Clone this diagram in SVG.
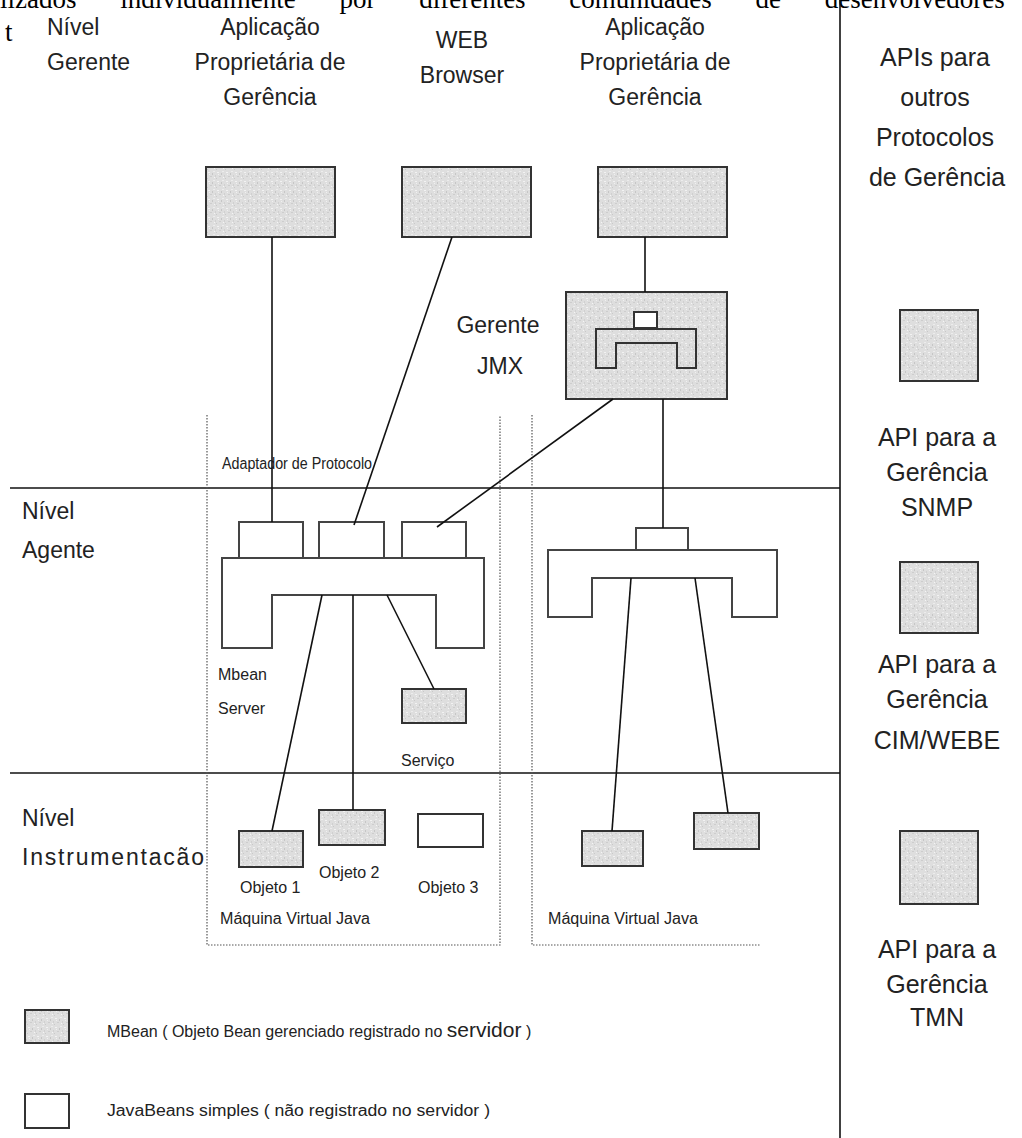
<svg xmlns="http://www.w3.org/2000/svg" width="1022" height="1138" viewBox="0 0 1022 1138">
<defs>
<pattern id="speck" width="9" height="9" patternUnits="userSpaceOnUse">
<rect width="9" height="9" fill="#dedede"/>
<rect x="1" y="1" width="2" height="1" fill="#f2f2f2"/>
<rect x="5" y="2" width="1" height="2" fill="#c6c6c6"/>
<rect x="3" y="5" width="2" height="1" fill="#cdcdcd"/>
<rect x="7" y="6" width="1" height="1" fill="#f5f5f5"/>
<rect x="0" y="7" width="1" height="1" fill="#c9c9c9"/>
<rect x="6" y="0" width="2" height="1" fill="#ececec"/>
<rect x="2" y="3" width="1" height="1" fill="#f0f0f0"/>
<rect x="8" y="4" width="1" height="2" fill="#d0d0d0"/>
</pattern>
<style>
.lbl{font-family:"Liberation Sans",Arial,sans-serif;font-size:23px;fill:#222}
.rl{font-family:"Liberation Sans",Arial,sans-serif;font-size:25px;fill:#222;text-anchor:middle}
.sm{font-family:"Liberation Sans",Arial,sans-serif;font-size:16px;fill:#222}
.c{text-anchor:middle}
.mb{fill:url(#speck);stroke:#333;stroke-width:2}
.jb{fill:#fff;stroke:#333;stroke-width:2}
.shape{fill:#fff;stroke:#444;stroke-width:2}
.conn{stroke:#111;stroke-width:1.6;fill:none}
.sep{stroke:#111;stroke-width:1.6;fill:none}
.dot{stroke:#555;stroke-width:1.2;stroke-dasharray:1.5 1.5;fill:none}
.serif{font-family:"Liberation Serif","Times New Roman",serif;font-size:27px;fill:#000}
</style>
</defs>
<rect width="1022" height="1138" fill="#fff"/>

<text class="serif" x="0" y="8" word-spacing="37">lizados individualmente por diferentes comunidades de desenvolvedores</text>
<text class="serif" x="5" y="41">t</text>

<g id="separators">
<line class="sep" x1="840" y1="0" x2="840" y2="1138"/>
<line class="sep" x1="10" y1="488" x2="840" y2="488"/>
<line class="sep" x1="10" y1="773" x2="840" y2="773"/>
<polyline class="dot" points="207,415 207,945 500,945 500,415"/>
<polyline class="dot" points="532,415 532,945 760,945"/>
</g>

<g id="level-labels">
<text class="lbl" x="47" y="35">Nível</text>
<text class="lbl" x="47" y="70">Gerente</text>
<text class="lbl" x="22" y="519">Nível</text>
<text class="lbl" x="22" y="558">Agente</text>
<text class="lbl" x="22" y="826">Nível</text>
<text class="lbl" x="22" y="865" textLength="182" lengthAdjust="spacing">Instrumentacão</text>
</g>

<g id="app1">
<text class="lbl c" x="270" y="35">Aplicação</text>
<text class="lbl c" x="270" y="70">Proprietária de</text>
<text class="lbl c" x="270" y="105">Gerência</text>
<rect class="mb" x="206" y="167" width="129" height="70"/>
</g>

<g id="web">
<text class="lbl c" x="462" y="48">WEB</text>
<text class="lbl c" x="462" y="83">Browser</text>
<rect class="mb" x="402" y="167" width="129" height="70"/>
</g>

<g id="app2">
<text class="lbl c" x="655" y="35">Aplicação</text>
<text class="lbl c" x="655" y="70">Proprietária de</text>
<text class="lbl c" x="655" y="105">Gerência</text>
<rect class="mb" x="598" y="167" width="129" height="70"/>
</g>

<g id="gerente-jmx">
<text class="lbl c" x="498" y="333">Gerente</text>
<text class="lbl c" x="500" y="374">JMX</text>
<rect class="mb" x="566" y="292" width="161" height="107"/>
<rect x="634" y="312" width="23" height="16" fill="#fff" stroke="#333" stroke-width="2"/>
<path d="M596,329 H696 V368 H677 V343 H616 V368 H596 Z" fill="none" stroke="#333" stroke-width="2"/>
</g>

<g id="mbean-server-1">
<text class="sm" x="222" y="469" textLength="150" lengthAdjust="spacingAndGlyphs">Adaptador de Protocolo</text>
<rect class="shape" x="239" y="522" width="64" height="36"/>
<rect class="shape" x="319" y="522" width="65" height="36"/>
<rect class="shape" x="402" y="522" width="64" height="36"/>
<path class="shape" d="M222,558 H484 V648 H436 V595 H272 V648 H222 Z"/>
<text class="sm" x="218" y="680">Mbean</text>
<text class="sm" x="218" y="714">Server</text>
</g>

<g id="servico">
<rect class="mb" x="402" y="689" width="64" height="34"/>
<text class="sm" x="401" y="766">Serviço</text>
</g>

<g id="objeto1">
<rect class="mb" x="239" y="831" width="64" height="36"/>
<text class="sm" x="240" y="893">Objeto 1</text>
</g>
<g id="objeto2">
<rect class="mb" x="319" y="810" width="66" height="35"/>
<text class="sm" x="319" y="878">Objeto 2</text>
</g>
<g id="objeto3">
<rect class="jb" x="418" y="814" width="65" height="33"/>
<text class="sm" x="418" y="893">Objeto 3</text>
</g>

<g id="mbean-server-2">
<rect class="shape" x="636" y="528" width="52" height="22"/>
<path class="shape" d="M548,550 H777 V617 H732 V578 H592 V617 H548 Z"/>
</g>
<g id="mbean-a">
<rect class="mb" x="582" y="831" width="61" height="35"/>
</g>
<g id="mbean-b">
<rect class="mb" x="694" y="813" width="65" height="36"/>
</g>

<g id="jvm-labels">
<text class="sm" x="220" y="924" textLength="150" lengthAdjust="spacingAndGlyphs">Máquina Virtual Java</text>
<text class="sm" x="548" y="924" textLength="150" lengthAdjust="spacingAndGlyphs">Máquina Virtual Java</text>
</g>

<g id="connectors">
<line class="conn" x1="272" y1="237" x2="272" y2="522"/>
<line class="conn" x1="452" y1="237" x2="354" y2="525"/>
<line class="conn" x1="645" y1="237" x2="645" y2="292"/>
<line class="conn" x1="613" y1="399" x2="437" y2="527"/>
<line class="conn" x1="663" y1="399" x2="663" y2="528"/>
<line class="conn" x1="322" y1="595" x2="272" y2="831"/>
<line class="conn" x1="353" y1="595" x2="353" y2="810"/>
<line class="conn" x1="387" y1="595" x2="434" y2="689"/>
<line class="conn" x1="631" y1="578" x2="612" y2="831"/>
<line class="conn" x1="695" y1="578" x2="728" y2="813"/>
</g>

<g id="api-others">
<text class="rl" x="935" y="66">APIs para</text>
<text class="rl" x="935" y="106">outros</text>
<text class="rl" x="935" y="146">Protocolos</text>
<text class="rl" x="937" y="186">de Gerência</text>
</g>
<g id="api-snmp">
<rect class="mb" x="900" y="310" width="78" height="71"/>
<text class="rl" x="937" y="446">API para a</text>
<text class="rl" x="937" y="481">Gerência</text>
<text class="rl" x="937" y="516">SNMP</text>
</g>
<g id="api-cim">
<rect class="mb" x="900" y="562" width="78" height="71"/>
<text class="rl" x="937" y="673">API para a</text>
<text class="rl" x="937" y="708">Gerência</text>
<text class="rl" x="937" y="749">CIM/WEBE</text>
</g>
<g id="api-tmn">
<rect class="mb" x="900" y="831" width="78" height="73"/>
<text class="rl" x="937" y="958">API  para a</text>
<text class="rl" x="937" y="993">Gerência</text>
<text class="rl" x="937" y="1026">TMN</text>
</g>

<g id="legend">
<rect class="mb" x="25" y="1010" width="44" height="33"/>
<text class="sm" x="107" y="1037" font-size="16">MBean ( Objeto Bean gerenciado registrado no <tspan font-size="21">servidor</tspan> )</text>
<rect class="jb" x="25" y="1094" width="44" height="34"/>
<text class="sm" x="107" y="1116" font-size="17" textLength="383" lengthAdjust="spacingAndGlyphs">JavaBeans simples ( não registrado no servidor )</text>
</g>
</svg>
